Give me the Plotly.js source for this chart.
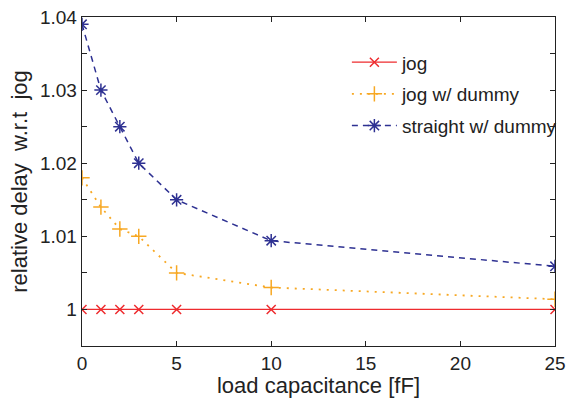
<!DOCTYPE html>
<html><head><meta charset="utf-8">
<script src="https://cdn.plot.ly/plotly-3.0.1.min.js"></script>
<style>html,body{margin:0;padding:0;background:#fff}#chart{width:570px;height:398px}</style>
</head><body><div id="chart"></div>
<script>
const loadCap = [0, 1, 2, 3, 5, 10, 25];
const jog = [1, 1, 1, 1, 1, 1, 1];
const jogDummy = [1.018, 1.014, 1.011, 1.010, 1.005, 1.003, 1.0014];
const straightDummy = [1.039, 1.030, 1.025, 1.020, 1.015, 1.0094, 1.0059];
const seriesNames = ['jog', 'jog w/ dummy', 'straight w/ dummy'];
const yTickVals = [0.995, 1, 1.005, 1.01, 1.015, 1.02, 1.025, 1.03, 1.035, 1.04];
const yTickText = ['', '1', '', '1.01', '', '1.02', '', '1.03', '', '1.04'];
const xTickVals = [0, 5, 10, 15, 20, 25];

const red = '#ee2b2e', orange = '#f7a823', blue = '#2e3192';
const traces = [
  {x: loadCap, y: jog, name: seriesNames[0], mode: 'lines+markers', legendgroup: 'a',
   line: {color: red, width: 1.3, dash: 'solid'},
   marker: {symbol: 'x-thin-open', size: 9, color: red, line: {color: red, width: 1.5}}},
  {x: loadCap, y: jogDummy, name: seriesNames[1], mode: 'lines+markers', legendgroup: 'b',
   line: {color: orange, width: 1.8, dash: '2px,6px'},
   marker: {symbol: 'cross-thin-open', size: 11, color: orange, line: {color: orange, width: 1.5}}},
  {x: loadCap, y: straightDummy, name: seriesNames[2], mode: 'lines+markers', legendgroup: 'c',
   line: {color: blue, width: 1.5, dash: '6px,5px'},
   marker: {symbol: 'asterisk-open', size: 11, color: blue, line: {color: blue, width: 1.5}}}
];
const font = {family: 'Liberation Sans, Arial, sans-serif', color: '#222'};
const layout = {
  width: 570, height: 398,
  margin: {l: 82, r: 15, t: 17, b: 52, autoexpand: false},
  paper_bgcolor: '#fff', plot_bgcolor: '#fff',
  font: font,
  showlegend: true,
  legend: {x: 0.56, y: 0.92, xanchor: 'left', yanchor: 'top', bgcolor: 'rgba(0,0,0,0)',
           itemwidth: 45, tracegroupgap: 4,
           font: {size: 19, family: font.family, color: '#222'}},
  xaxis: {range: [0, 25], tickvals: xTickVals, ticks: 'inside', ticklen: 5, tickcolor: '#222',
          showline: true, linecolor: '#222', linewidth: 1.3, mirror: 'ticks', showgrid: false, zeroline: false,
          tickfont: {size: 19, family: font.family, color: '#222'},
          title: {text: 'load capacitance [fF]', font: {size: 22, family: font.family, color: '#222'}, standoff: 4}},
  yaxis: {range: [0.995, 1.04], tickvals: yTickVals, ticktext: yTickText, ticks: 'inside', ticklen: 5, tickcolor: '#222',
          showline: true, linecolor: '#222', linewidth: 1.3, mirror: 'ticks', showgrid: false, zeroline: false,
          tickfont: {size: 19, family: font.family, color: '#222'},
          title: {text: 'relative delay\u00a0\u00a0w.r.t\u00a0\u00a0jog', font: {size: 22, family: font.family, color: '#222'}, standoff: 6}}
};
Plotly.newPlot('chart', traces, layout, {displayModeBar: false, staticPlot: true});
</script></body></html>
